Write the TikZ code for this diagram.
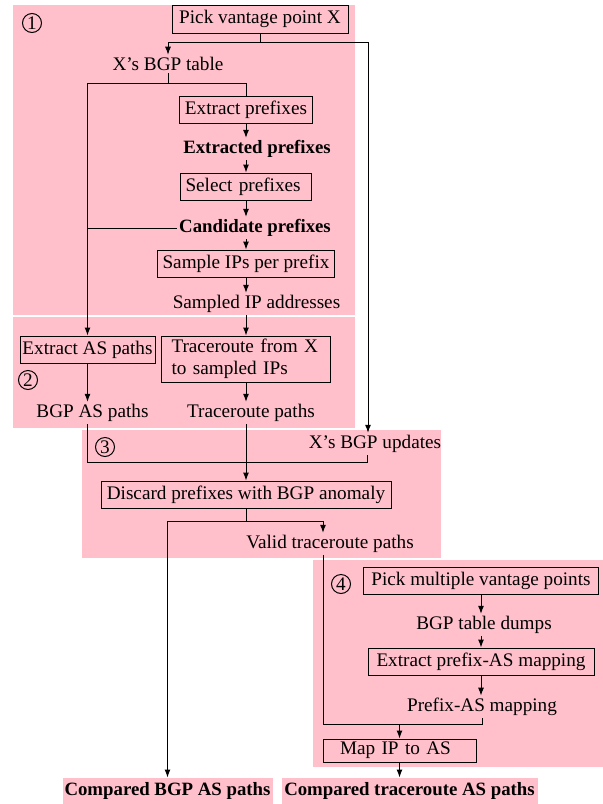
\documentclass[tikz,border=0pt]{standalone}
\usepackage{fontspec}
\setmainfont{Liberation Serif}
\usetikzlibrary{arrows.meta,positioning}
\definecolor{stagepink}{RGB}{255,192,203}
\tikzset{>={Latex[length=4pt,width=3pt]}}
\tikzset{
  stepbox/.style={draw,inner xsep=2.5pt,inner ysep=0pt,minimum height=13.5pt},
  data/.style={inner sep=1pt},
  result/.style={data,font=\fontsize{9.4}{11}\bfseries\selectfont},
  final/.style={fill=stagepink,font=\fontsize{9.4}{11}\bfseries\selectfont,inner xsep=0pt,inner ysep=1pt,minimum height=13pt},
  stage/.style={draw,circle,inner sep=0pt,minimum size=9.5pt}
}

\begin{document}
\begin{tikzpicture}[x=0.5pt,y=-0.5pt,line width=0.5pt,font=\fontsize{9.6}{11}\selectfont]
    \useasboundingbox (0,0) rectangle (603,804);
    % stage backgrounds
    \fill[stagepink] (13,5) rectangle (355,315);
    \fill[stagepink] (13,317) rectangle (355,428);
    \fill[stagepink] (82,430) rectangle (441,558);
    \fill[stagepink] (313,560) rectangle (603,767);
    \node[stage] (s1) at (32,23) {1};
    \node[stage] (s2) at (28,380) {2};
    \node[stage] (s3) at (105,447) {3};
    \node[stage] (s4) at (341,584) {4};

    \node[stepbox,minimum width=88pt,minimum height=14pt] (pick) at (260,19) {Pick vantage point X};
    \node[data] (bgptab) at (168,64) {X’s BGP table};
    \node[stepbox,minimum width=65.5pt] (extract) at (246,110) {Extract prefixes};
    \node[result] (extracted) at (257,149) {Extracted prefixes};
    \node[stepbox,text width=60.5pt,align=left] (select) at (246,186.5) {Select prefixes};
    \node[result] (candidate) at (255,228) {Candidate prefixes};
    \node[stepbox,minimum width=88pt] (sample) at (246,263.5) {Sample IPs per prefix};
    \node[data] (sampled) at (256.5,304) {Sampled IP addresses};
    \node[stepbox,minimum width=67.5pt,inner xsep=1pt] (extras) at (87.5,349.5) {Extract AS paths};
    \node[stepbox,text width=74.5pt,inner xsep=5pt,minimum height=23pt,align=left] (trace) at (246,359) {Traceroute from X\\to sampled IPs};
    \node[data] (bgpaspaths) at (92.5,413) {BGP AS paths};
    \node[data] (trpaths) at (251,413) {Traceroute paths};
    \node[data] (updates) at (375,444) {X’s BGP updates};
    \node[stepbox,minimum width=145pt] (discard) at (246,494.5) {Discard prefixes with BGP anomaly};
    \node[data] (valid) at (330,544) {Valid traceroute paths};
    \node[stepbox,minimum width=117.5pt] (pickm) at (481,581) {Pick multiple vantage points};
    \node[data] (dumps) at (484,625) {BGP table dumps};
    \node[stepbox,minimum width=113pt] (extractm) at (481,661.5) {Extract prefix-AS mapping};
    \node[data] (pfxas) at (482,707) {Prefix-AS mapping};
    \node[stepbox,text width=59.5pt,inner xsep=8.5pt,minimum height=11.5pt,align=left] (mapip) at (399.5,750.5) {Map IP to AS};
    \node[final,minimum width=105pt] (cmpbgp) at (167.5,791) {Compared BGP AS paths};
    \node[final,minimum width=128pt] (cmptr) at (409.5,791) {Compared traceroute AS paths};

    \coordinate (split) at (260,42);
    \coordinate (right) at (368,42);
    \coordinate (fork) at (168,83);
    \coordinate (joinr) at (367,462);
    \coordinate (branch) at (246,521);
    \coordinate (branchr) at (323,521);
    \coordinate (merge) at (323,724);

    \draw (pick) -- (split);
    \draw[->] (split) -| (bgptab);
    \draw[->] (split) -- (right) -- (right |- updates.north);
    \draw (bgptab) -- (fork);
    \draw[->] (fork) -| (extras);
    \draw (fork) -| (extract);
    \draw[->] (extract) -- (extract |- extracted.north);
    \draw[->] (extract |- extracted.south) -- (select);
    \draw[->] (select) -- (select |- candidate.north);
    \draw[->] (select |- candidate.south) -- (sample);
    \draw (candidate) -- (candidate -| extras);
    \draw[->] (sample) -- (sample |- sampled.north);
    \draw[->] (sample |- sampled.south) -- (trace);
    \draw[->] (extras) -- (extras |- bgpaspaths.north);
    \draw[->] (trace) -- (trace |- trpaths.north);
    \draw (extras |- bgpaspaths.south) -- (extras |- joinr) -- (joinr) -- (joinr |- updates.south);
    \draw[->] (trace |- trpaths.south) -- (discard);
    \draw (discard) -- (branch);
    \draw[->] (branch) -| (cmpbgp);
    \draw[->] (branch) -- (branchr) -- (branchr |- valid.north);
    \draw (branchr |- valid.south) -- (merge) -| (pfxas);
    \draw[->] (mapip |- merge) -- (mapip);
    \draw[->] (pickm) -- (pickm |- dumps.north);
    \draw[->] (pickm |- dumps.south) -- (extractm);
    \draw[->] (extractm) -- (extractm |- pfxas.north);
    \draw[->] (mapip) -- (mapip |- cmptr.north);
\end{tikzpicture}
\end{document}
